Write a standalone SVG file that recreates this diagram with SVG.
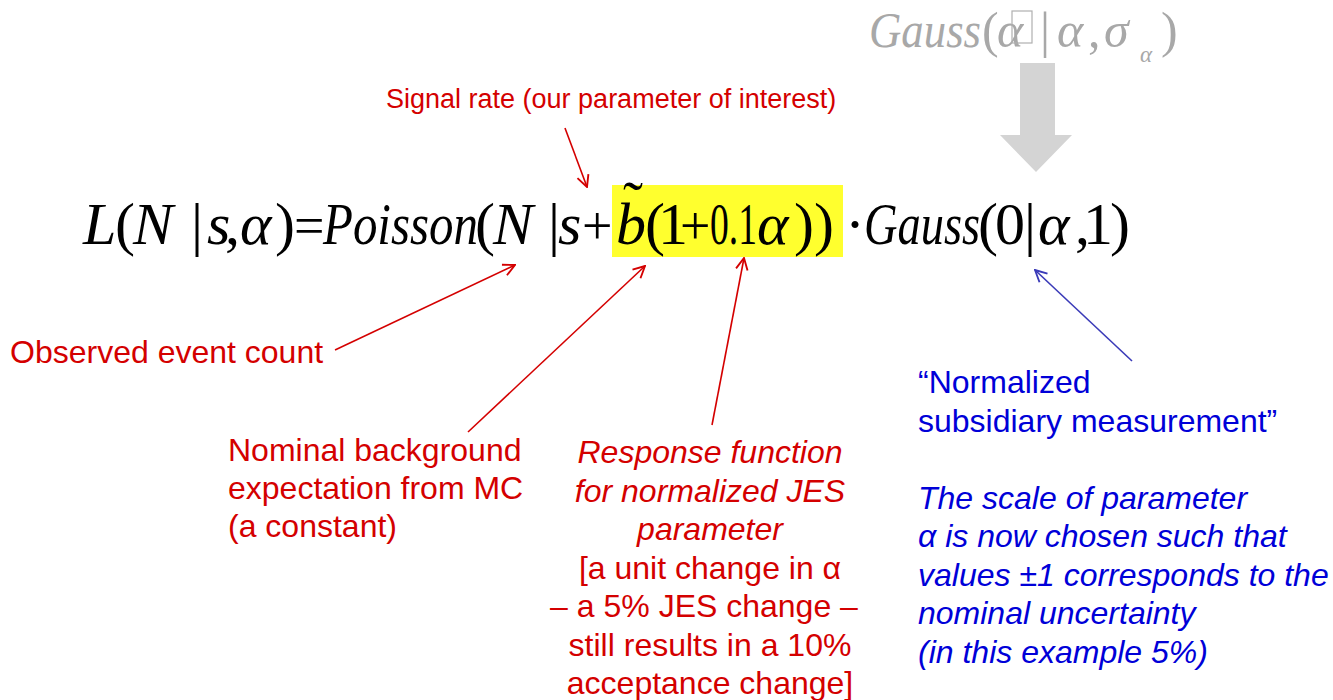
<svg xmlns="http://www.w3.org/2000/svg" width="1333" height="700" viewBox="0 0 1333 700">
<style>
.lbl{font-family:"Liberation Sans",Arial,sans-serif;font-size:32px;fill:#d40000}
.blue{font-family:"Liberation Sans",Arial,sans-serif;font-size:32px;fill:#0000d8}
.it{font-style:italic}
.eq{font-family:"Liberation Serif","Times New Roman",serif;font-size:60px;fill:#000}
.eqi{font-style:italic}
.op{font-size:54px}
.top{font-family:"Liberation Serif","Times New Roman",serif;font-size:50px;fill:#a8a8a8;font-style:italic}
.up{font-style:normal}
.red{stroke:#d40000;stroke-width:1.6;fill:none}
.bl{stroke:#3a3ab8;stroke-width:1.6;fill:none}
</style>
<defs>
<marker id="ar" viewBox="0 0 12 12" refX="11" refY="6" markerWidth="14" markerHeight="14" markerUnits="userSpaceOnUse" orient="auto">
<path d="M1,1 L11,6 L1,11" fill="none" stroke="#d40000" stroke-width="1.6"/>
</marker>
<marker id="ab" viewBox="0 0 12 12" refX="11" refY="6" markerWidth="14" markerHeight="14" markerUnits="userSpaceOnUse" orient="auto">
<path d="M1,1 L11,6 L1,11" fill="none" stroke="#3a3ab8" stroke-width="1.6"/>
</marker>
</defs>
<rect width="1333" height="700" fill="#fff"/>

<g id="prior">
<text class="top" y="47"><tspan x="869" textLength="112" lengthAdjust="spacingAndGlyphs">Gauss</tspan><tspan class="up" x="982">(</tspan><tspan x="997">α</tspan><tspan class="up" x="1040">|</tspan><tspan x="1057">α</tspan><tspan class="up" x="1088">,</tspan><tspan x="1104">σ</tspan><tspan class="up" x="1161">)</tspan></text>
<text class="top" x="1140" y="62" style="font-size:23px">α</text>
<rect x="1012" y="11" width="20" height="32" fill="none" stroke="#b0b0b0" stroke-width="1.2"/>
<polygon points="1020,63 1055,63 1055,135 1072,135 1036,172 1000,135 1020,135" fill="#d4d4d4"/>
</g>

<g id="equation">
<rect x="612" y="185" width="231" height="72" fill="#ffff2e"/>
<text class="eq" y="244">
<tspan class="eqi" x="83">L</tspan><tspan x="115">(</tspan><tspan class="eqi" x="133">N</tspan><tspan x="191">|</tspan><tspan class="eqi" x="207">s</tspan><tspan x="225">,</tspan><tspan class="eqi" x="240">α</tspan><tspan x="275">)</tspan><tspan class="op" x="294">=</tspan><tspan class="eqi" x="323" textLength="155" lengthAdjust="spacingAndGlyphs">Poisson</tspan><tspan x="475">(</tspan><tspan class="eqi" x="493">N</tspan><tspan x="548">|</tspan><tspan class="eqi" x="558">s</tspan><tspan class="op" x="582">+</tspan><tspan class="eqi" x="616">b</tspan><tspan x="645">(</tspan><tspan x="658">1</tspan><tspan class="op" x="680">+</tspan><tspan x="710" textLength="47" lengthAdjust="spacingAndGlyphs">0.1</tspan><tspan class="eqi" x="757">α</tspan><tspan x="794">))</tspan><tspan x="845">·</tspan><tspan class="eqi" x="864" textLength="116" lengthAdjust="spacingAndGlyphs">Gauss</tspan><tspan x="978">(</tspan><tspan x="995">0</tspan><tspan x="1024">|</tspan><tspan class="eqi" x="1038">α</tspan><tspan x="1075">,</tspan><tspan x="1083">1</tspan><tspan x="1110">)</tspan>
</text>
<text class="eq" x="623" y="222">˜</text>
</g>

<g id="signal">
<text class="lbl" x="386" y="108" style="font-size:27px">Signal rate (our parameter of interest)</text>
</g>
<g id="observed">
<text class="lbl" x="10" y="363">Observed event count</text>
</g>
<g id="nominal">
<text class="lbl" x="228"><tspan x="228" y="461">Nominal background</tspan><tspan x="228" y="499">expectation from MC</tspan><tspan x="228" y="537">(a constant)</tspan></text>
</g>
<g id="response">
<text class="lbl" text-anchor="middle"><tspan class="it" x="710" y="463">Response function</tspan><tspan class="it" x="710" y="501.5">for normalized JES</tspan><tspan class="it" x="710" y="540">parameter</tspan><tspan x="710" y="578.5">[a unit change in α</tspan><tspan x="704" y="617">– a 5% JES change –</tspan><tspan x="710" y="655.5">still results in a 10%</tspan><tspan x="710" y="694">acceptance change]</tspan></text>
</g>
<g id="subsidiary">
<text class="blue"><tspan x="918" y="393">“Normalized</tspan><tspan x="918" y="431.5">subsidiary measurement”</tspan><tspan class="it" x="918" y="508.5">The scale of parameter</tspan><tspan class="it" x="918" y="547">α is now chosen such that</tspan><tspan class="it" x="918" y="585.5">values ±1 corresponds to the</tspan><tspan class="it" x="918" y="624">nominal uncertainty</tspan><tspan class="it" x="918" y="662.5">(in this example 5%)</tspan></text>
</g>

<g id="connectors">
<line class="red" x1="565" y1="128" x2="587" y2="187" marker-end="url(#ar)"/>
<line class="red" x1="335" y1="350" x2="515" y2="265" marker-end="url(#ar)"/>
<line class="red" x1="468" y1="432" x2="645" y2="266" marker-end="url(#ar)"/>
<line class="red" x1="712" y1="425" x2="744" y2="258" marker-end="url(#ar)"/>
<line class="bl" x1="1132" y1="361" x2="1035" y2="270" marker-end="url(#ab)"/>
</g>
</svg>
